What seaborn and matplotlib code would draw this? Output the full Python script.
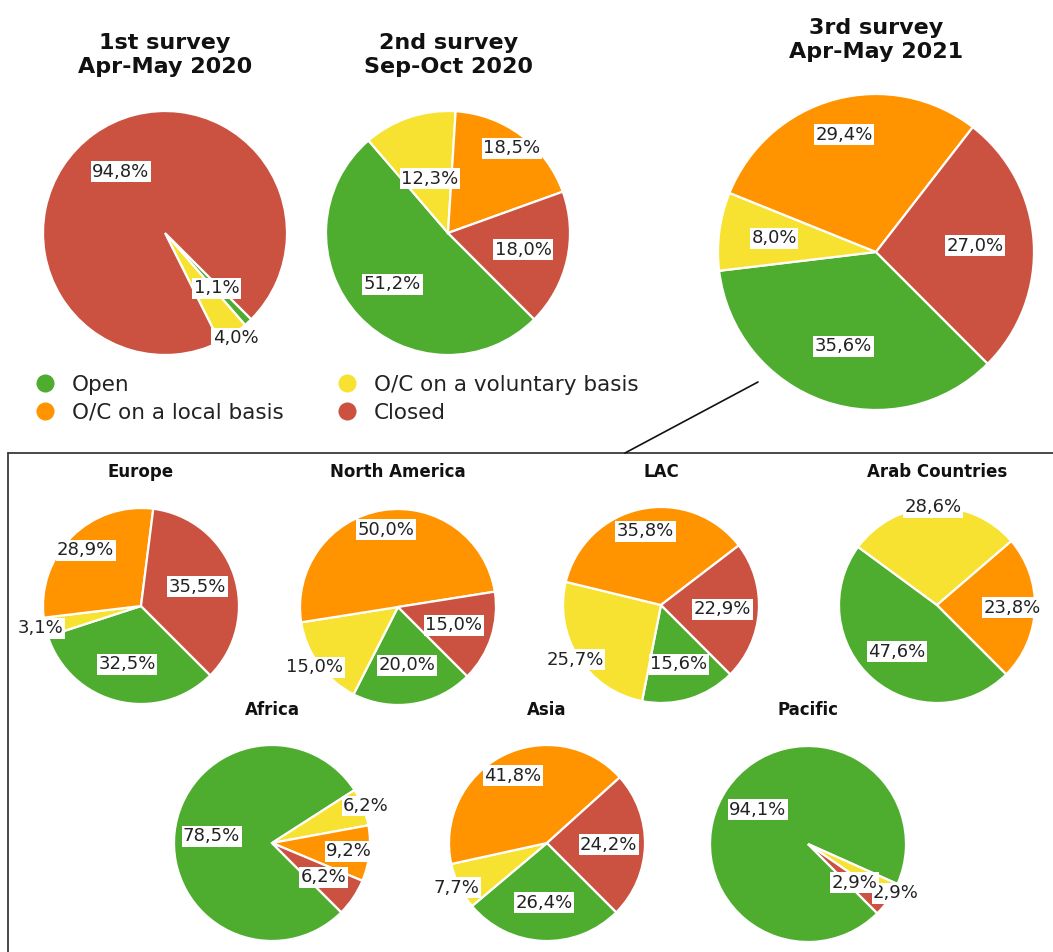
import matplotlib
matplotlib.use("Agg")
import matplotlib.pyplot as plt
from matplotlib.lines import Line2D
import numpy as np
import seaborn as sns

# Status categories and their colours
categories = ["Open", "O/C on a voluntary basis", "O/C on a local basis", "Closed"]
status_colors = ["#4EAD2E", "#F8E231", "#FF9300", "#CB5140"]

# Survey waves (values in %, same order as categories)
survey_titles = ["1st survey\nApr-May 2020", "2nd survey\nSep-Oct 2020", "3rd survey\nApr-May 2021"]
survey1 = [1.1, 4.0, 0.0, 94.8]
survey2 = [51.2, 12.3, 18.5, 18.0]
survey3 = [35.6, 8.0, 29.4, 27.0]

# Regional breakdown of the 3rd survey
region_names = ["Europe", "North America", "LAC", "Arab Countries", "Africa", "Asia", "Pacific"]
europe = [32.5, 3.1, 28.9, 35.5]
north_america = [20.0, 15.0, 50.0, 15.0]
lac = [15.6, 25.7, 35.8, 22.9]
arab_countries = [47.6, 28.6, 23.8, 0.0]
africa = [78.5, 6.2, 9.2, 6.2]
asia = [26.4, 7.7, 41.8, 24.2]
pacific = [94.1, 2.9, 0.0, 2.9]

sns.set_theme(style="white")
plt.rcParams["font.family"] = ["DejaVu Sans"]
palette = sns.color_palette(status_colors)

W, H = 1053, 952
fig = plt.figure(figsize=(W / 100, H / 100), dpi=100)
fig.patch.set_facecolor("white")


def pie_axes(cx, cy, r):
    ax = fig.add_axes([(cx - r) / W, 1 - (cy + r) / H, 2 * r / W, 2 * r / H])
    ax.set_xlim(-1, 1)
    ax.set_ylim(-1, 1)
    ax.axis("off")
    return ax


def draw_pie(ax, values, label_dist, fontsize=13):
    idx = [i for i, v in enumerate(values) if v > 0]
    vals = [values[i] for i in idx]
    cols = [palette[i] for i in idx]
    wedges, _ = ax.pie(vals, colors=cols, startangle=-45, counterclock=False,
                       radius=1, center=(0, 0),
                       wedgeprops=dict(edgecolor="white", linewidth=1.6))
    ax.set_xlim(-1, 1)
    ax.set_ylim(-1, 1)
    for w, i in zip(wedges, idx):
        mid = np.deg2rad((w.theta1 + w.theta2) / 2)
        d = label_dist[i]
        txt = f"{values[i]:.1f}".replace(".", ",") + "%"
        ax.text(d * np.cos(mid), d * np.sin(mid), txt, ha="center", va="center",
                fontsize=fontsize, color="#222222", clip_on=False, zorder=5,
                bbox=dict(boxstyle="square,pad=0.08", fc="white", ec="none"))


# Survey pies
survey_specs = [
    (survey1, (165, 233, 122), [0.62, 1.04, 0.0, 0.62], (165, 55)),
    (survey2, (448, 233, 122), [0.62, 0.47, 0.87, 0.63], (449, 55)),
    (survey3, (876, 252, 158), [0.63, 0.65, 0.77, 0.63], (876, 40)),
]
for (vals, (cx, cy, r), dists, (tx, ty)), title in zip(survey_specs, survey_titles):
    draw_pie(pie_axes(cx, cy, r), vals, dists)
    fig.text(tx / W, 1 - ty / H, title, ha="center", va="center", fontsize=16,
             fontweight="bold", color="#111111", linespacing=1.25)

# Regional pies
region_values = [europe, north_america, lac, arab_countries, africa, asia, pacific]
region_centers = [(141, 606), (398, 607), (661, 605), (937, 605),
                  (272, 843), (547, 843), (808, 844)]
region_dists = [
    [0.61, 1.05, 0.80, 0.61],
    [0.60, 1.05, 0.80, 0.60],
    [0.63, 1.04, 0.77, 0.63],
    [0.63, 1.00, 0.77, 0.63],
    [0.62, 1.03, 0.79, 0.63],
    [0.61, 1.03, 0.77, 0.63],
    [0.62, 1.03, 0.62, 0.62],
]
region_title_y = [472, 472, 472, 472, 710, 710, 710]
for name, vals, (cx, cy), dists, ty in zip(region_names, region_values, region_centers,
                                           region_dists, region_title_y):
    draw_pie(pie_axes(cx, cy, 98), vals, dists)
    fig.text(cx / W, 1 - ty / H, name, ha="center", va="center", fontsize=12,
             fontweight="bold", color="#111111")

# Frame around the regional breakdown and connector to the 3rd survey
frame_color = "#3a3a3a"
fig.add_artist(Line2D([8 / W, 8 / W], [1 - 453 / H, 0], transform=fig.transFigure,
                      color=frame_color, lw=1.3))
fig.add_artist(Line2D([8 / W, 1], [1 - 453 / H, 1 - 453 / H], transform=fig.transFigure,
                      color=frame_color, lw=1.3))
fig.add_artist(Line2D([625 / W, 758 / W], [1 - 453 / H, 1 - 382 / H],
                      transform=fig.transFigure, color="#111111", lw=1.2))

# Legend
handles = [Line2D([0], [0], marker="o", linestyle="none", markersize=13,
                  markerfacecolor=palette[i], markeredgecolor="none")
           for i in [0, 2, 1, 3]]
labels = [categories[i] for i in [0, 2, 1, 3]]
fig.legend(handles, labels, ncol=2, loc="upper left",
           bbox_to_anchor=(34 / W, 1 - 375 / H), frameon=False, fontsize=15.5,
           handletextpad=0.75, columnspacing=2.45, labelspacing=0.36,
           handlelength=1.0, borderaxespad=0, borderpad=0, labelcolor="#222222")

fig.savefig("out.png", dpi=100, facecolor="white")
